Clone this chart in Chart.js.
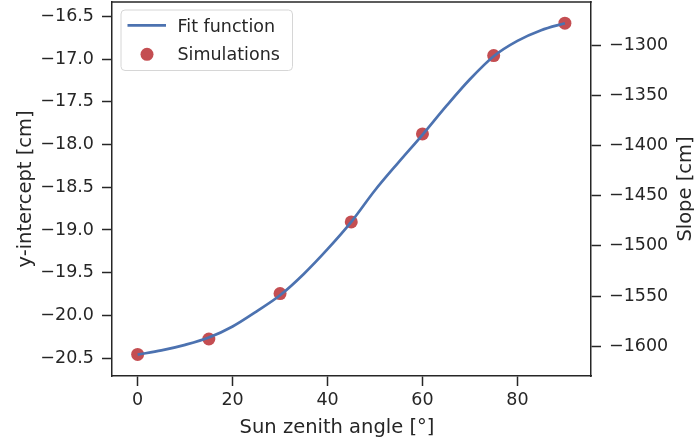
<!DOCTYPE html>
<html>
<head>
<meta charset="utf-8">
<title>y-intercept vs sun zenith angle</title>
<script src="https://cdn.jsdelivr.net/npm/chart.js@4.4.1/dist/chart.umd.min.js"></script>
<style>
  html, body { margin: 0; padding: 0; background: #fff; }
  #chart { display: block; }
</style>
</head>
<body>
<canvas id="chart" width="694" height="444"></canvas>
<script>
// Simulation results: y-intercept per sun zenith angle
const simAngles = [0, 15, 30, 45, 60, 75, 90];
const simIntercept = [-20.457, -20.277, -19.745, -18.906, -17.875, -16.957, -16.578];

// Fitted curve, sampled every 5 degrees
const fitAngles = [0, 5, 10, 15, 20, 25, 30, 35, 40, 45, 50, 55, 60, 65, 70, 75, 80, 85, 90];
const fitIntercept = [-20.46, -20.41, -20.345, -20.26, -20.13, -19.955, -19.765, -19.515, -19.225,
                      -18.905, -18.535, -18.205, -17.885, -17.55, -17.235, -16.965, -16.785, -16.66, -16.578];

// Axis ticks
const angleTicks = [0, 20, 40, 60, 80];
const interceptTicks = [-20.5, -20.0, -19.5, -19.0, -18.5, -18.0, -17.5, -17.0, -16.5];
const slopeTicks = [-1600, -1550, -1500, -1450, -1400, -1350, -1300];

// Axis limits
const angleRange = [-5.4, 95.5];
const interceptRange = [-20.71, -16.33];
const slopeRange = [-1629.6, -1257];

const INK = '#262626';
const BLUE = '#4c72b0';
const RED = '#c44e52';
const FONT = 'DejaVu Sans';

const minus = s => String(s).replace('-', '\u2212');

function fixTicks(values) {
    return scale => { scale.ticks = values.map(v => ({ value: v })); };
}

// pin axis sizes so the plot box lands where we want it
function fixSize(prop, size) {
    return scale => {
        scale[prop] = size;
        scale.paddingTop = 0;
        scale.paddingBottom = 0;
        scale.paddingLeft = 0;
        scale.paddingRight = 0;
    };
}

const tickFont = { family: FONT, size: 17.5 };
const axisGrid = { drawOnChartArea: false, drawTicks: true, tickLength: 10, tickWidth: 1.5, tickColor: INK };
const axisBorder = { display: true, color: INK, width: 1.5 };

// Frame top edge, axis titles and the legend box
const decorations = {
    id: 'decorations',
    afterDraw(chart) {
        const { ctx, chartArea: a } = chart;
        ctx.save();

        ctx.strokeStyle = INK;
        ctx.lineWidth = 1.5;
        ctx.beginPath();
        ctx.moveTo(a.left - 0.75, a.top);
        ctx.lineTo(a.right + 0.75, a.top);
        ctx.stroke();

        ctx.fillStyle = INK;
        ctx.font = '19.5px "' + FONT + '"';
        ctx.textBaseline = 'alphabetic';
        ctx.textAlign = 'center';
        ctx.fillText('Sun zenith angle [°]', 337, 432.5);

        const midY = (a.top + a.bottom) / 2;
        ctx.save();
        ctx.translate(31, midY);
        ctx.rotate(-Math.PI / 2);
        ctx.fillText('y-intercept [cm]', 0, 0);
        ctx.restore();

        ctx.save();
        ctx.translate(691, midY);
        ctx.rotate(-Math.PI / 2);
        ctx.fillText('Slope [cm]', 0, 0);
        ctx.restore();

        // legend
        const lx = a.left + 9, ly = a.top + 8, lw = 171.5, lh = 60.5;
        ctx.beginPath();
        ctx.roundRect(lx, ly, lw, lh, 4);
        ctx.fillStyle = 'rgba(255,255,255,0.8)';
        ctx.fill();
        ctx.strokeStyle = '#d6d6d6';
        ctx.lineWidth = 1;
        ctx.stroke();

        ctx.strokeStyle = BLUE;
        ctx.lineWidth = 2.7;
        ctx.beginPath();
        ctx.moveTo(lx + 6.5, ly + 15.3);
        ctx.lineTo(lx + 45, ly + 15.3);
        ctx.stroke();

        ctx.fillStyle = RED;
        ctx.beginPath();
        ctx.arc(lx + 26, ly + 44.3, 6.5, 0, Math.PI * 2);
        ctx.fill();

        ctx.fillStyle = INK;
        ctx.font = '17.5px "' + FONT + '"';
        ctx.textAlign = 'left';
        ctx.fillText('Fit function', lx + 56.5, ly + 22.3);
        ctx.fillText('Simulations', lx + 56.5, ly + 50);

        ctx.restore();
    }
};

new Chart(document.getElementById('chart'), {
    type: 'scatter',
    data: {
        datasets: [{
            label: 'Fit function',
            data: fitAngles.map((x, i) => ({ x, y: fitIntercept[i] })),
            showLine: true,
            borderColor: BLUE,
            borderWidth: 2.7,
            pointRadius: 0,
            cubicInterpolationMode: 'monotone',
            yAxisID: 'y',
            order: 0
        }, {
            label: 'Simulations',
            data: simAngles.map((x, i) => ({ x, y: simIntercept[i] })),
            backgroundColor: RED,
            borderWidth: 0,
            pointRadius: 6.5,
            yAxisID: 'y',
            order: 1
        }]
    },
    options: {
        responsive: false,
        animation: false,
        devicePixelRatio: 1,
        layout: { autoPadding: false, padding: { top: 2, left: 0, right: 0, bottom: 0 } },
        plugins: {
            legend: { display: false },
            tooltip: { enabled: false }
        },
        scales: {
            x: {
                type: 'linear',
                position: 'bottom',
                min: angleRange[0],
                max: angleRange[1],
                afterBuildTicks: fixTicks(angleTicks),
                afterFit: fixSize('height', 68),
                grid: axisGrid,
                border: axisBorder,
                ticks: { color: INK, font: tickFont, padding: 4, maxRotation: 0 }
            },
            y: {
                type: 'linear',
                position: 'left',
                min: interceptRange[0],
                max: interceptRange[1],
                afterBuildTicks: fixTicks(interceptTicks),
                afterFit: fixSize('width', 112),
                grid: axisGrid,
                border: axisBorder,
                ticks: { color: INK, font: tickFont, padding: 8, callback: v => minus(v.toFixed(1)) }
            },
            slope: {
                type: 'linear',
                position: 'right',
                min: slopeRange[0],
                max: slopeRange[1],
                afterBuildTicks: fixTicks(slopeTicks),
                afterFit: fixSize('width', 103),
                grid: axisGrid,
                border: axisBorder,
                ticks: { color: INK, font: tickFont, padding: 8, callback: v => minus(v) }
            }
        }
    },
    plugins: [decorations]
});
</script>
</body>
</html>
